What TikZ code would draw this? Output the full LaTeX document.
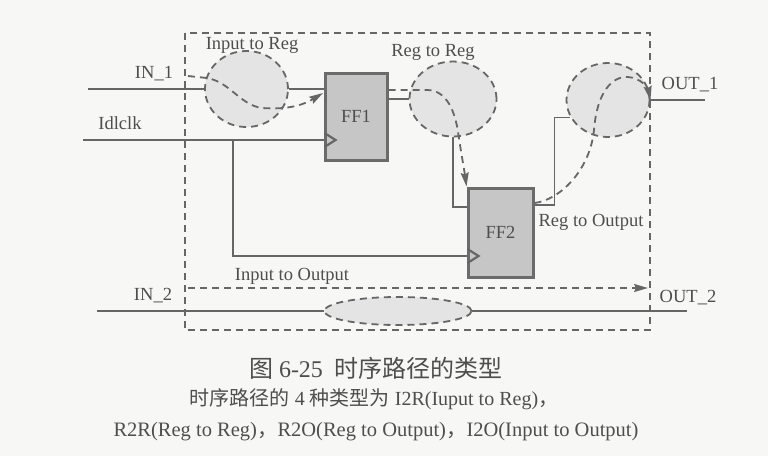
\documentclass[tikz,border=0pt]{standalone}
\usepackage{fontspec}
\setmainfont{Liberation Serif}
\newfontfamily\cjk{Noto Sans CJK SC}
\usetikzlibrary{positioning,arrows.meta,shapes.geometric}
\definecolor{paper}{RGB}{247,247,245}
\definecolor{wire}{RGB}{102,102,102}
\definecolor{ink}{RGB}{78,78,78}
\definecolor{bubble}{RGB}{228,228,228}
\definecolor{regfill}{RGB}{198,198,198}

\begin{document}
\begin{tikzpicture}[x=1pt, y=-1pt, font=\fontsize{18.5}{20}\selectfont, text=ink,
  wire/.style={draw=wire, line width=1.8pt},
  bound/.style={draw=wire, line width=1.8pt, dash pattern=on 7pt off 5pt},
  tpath/.style={draw=wire, line width=1.8pt, dash pattern=on 7pt off 5pt,
    -{Stealth[length=14pt,width=8pt,inset=2pt]}},
  zone/.style={ellipse, draw=wire, fill=bubble, line width=1.8pt,
    dash pattern=on 7pt off 5pt, inner sep=0pt},
  ff/.style={rectangle, draw=black!58, fill=regfill, line width=3pt, inner sep=0pt,
    minimum width=62pt, minimum height=87pt},
  lbl/.style={inner sep=0pt}]
  \fill[paper] (0,0) rectangle (768,456);
  \useasboundingbox (0,0) rectangle (768,456);

  % timing boundary
  \draw[bound] (185,33) rectangle (650,330);

  % path zones
  \node[zone, minimum width=83pt, minimum height=76pt] (z1) at (246.5,89) {};
  \node[zone, minimum width=87pt, minimum height=75pt] (z2) at (453,99) {};
  \node[zone, minimum width=83pt, minimum height=74pt] (z3) at (608,100) {};
  \node[zone, minimum width=147pt, minimum height=28pt] (z4) at (398,311) {};

  % pins
  \coordinate (in1) at (88,89);
  \coordinate (clk) at (83,140);
  \coordinate (tap) at (233,140);
  \coordinate (out1) at (705,100);
  \coordinate (in2) at (97,311);
  \coordinate (out2) at (687,311);

  % registers
  \node[ff] (ff1) at (356,116.5) {FF1};
  \node[ff, minimum width=65pt, minimum height=89pt] (ff2) at (500.5,232.5) {FF2};
  \coordinate (d1) at (ff1.west |- z1.east);
  \coordinate (q1) at (ff1.east |- z2.west);
  \coordinate (ck1) at (ff1.west |- clk);
  \coordinate (d2) at (ff2.west |- 0,207);
  \coordinate (q2) at (ff2.east |- 0,205);
  \coordinate (ck2) at (ff2.west |- 0,256);

  % wires
  \draw[wire] (in1) -- (z1.west);
  \draw[wire] (z1.east) -- (d1);
  \draw[wire] (q1) -- (z2.west);
  \draw[wire] (z2.south) |- (d2);
  \draw[wire] (q2) -- ++(20,0) |- (z3.205);
  \draw[wire] (z3.east) -- (out1);
  \draw[wire] (clk) -- (ck1);
  \draw[wire] (tap) |- (ck2);
  \draw[wire] (in2) -- (z4.west);
  \draw[wire] (z4.east) -- (out2);

  % clock marks
  \draw[wire, line width=2.2pt] (ck1) ++(1,-7) -- ++(11,7) -- ++(-11,7);
  \draw[wire, line width=2.2pt] (ck2) ++(1,-7) -- ++(11,7) -- ++(-11,7);

  % timing paths
  \coordinate (i2r) at (188,76);
  \coordinate (d1tip) at (323,93);
  \coordinate (q1top) at (ff1.east |- 0,90);
  \coordinate (q2top) at (ff2.east |- 0,203);
  \coordinate (i2o) at (188,288);
  \coordinate (o2o) at (648,288);
  \draw[tpath] (i2r) -- (207,78) .. controls (230,82) and (240,105) .. (262,108)
    .. controls (290,110) and (305,104) .. (d1tip);
  \draw[tpath] (q1top) -- (427,90) .. controls (447,90) and (455,112) .. (458,132)
    .. controls (461,152) and (465,175) .. (ff2.north west);
  \draw[tpath] (q2top) .. controls (560,200) and (590,170) .. (594,130)
    .. controls (597,92) and (612,76) .. (628,77)
    .. controls (641,78) and (648,88) .. (z3.east);
  \draw[tpath] (i2o) -- (o2o);

  % labels
  \node[lbl] (l1) at (252,45) {Input to Reg};
  \node[lbl] (l2) at (433,52) {Reg to Reg};
  \node[lbl] (l3) at (591,222) {Reg to Output};
  \node[lbl] (l4) at (292,276) {Input to Output};
  \node[lbl] (n1) at (154,74) {IN\_1};
  \node[lbl] (n2) at (153,296) {IN\_2};
  \node[lbl] (n3) at (690,85) {OUT\_1};
  \node[lbl] (n4) at (688,298) {OUT\_2};
  \node[lbl] (n5) at (120,123) {Idlclk};

  % caption
  \node[lbl] (cap) at (376,368) {\fontsize{24}{26}\selectfont{\cjk 图} 6-25\hspace{12pt}{\cjk 时序路径的类型}};
  \node[lbl] (note1) at (374,399) {\fontsize{20}{22}\selectfont{\cjk 时序路径的} 4 {\cjk 种类型为} I2R(Iuput to Reg){\cjk ，}};
  \node[lbl] (note2) at (376,432) {\fontsize{20.5}{22}\selectfont R2R(Reg to Reg){\cjk ，}R2O(Reg to Output){\cjk ，}I2O(Input to Output)};
\end{tikzpicture}
\end{document}
